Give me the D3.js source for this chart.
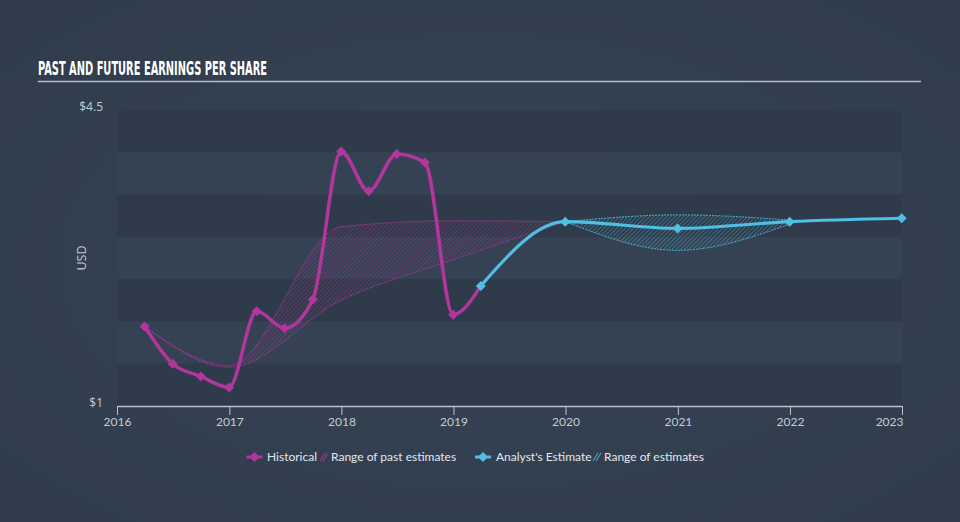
<!DOCTYPE html>
<html>
<head>
<meta charset="utf-8">
<script src="https://cdn.jsdelivr.net/npm/d3@7/dist/d3.min.js"></script>
<style>
html,body{margin:0;padding:0;background:#323e4e;}
svg{display:block;}
</style>
</head>
<body>
<svg id="chart" width="960" height="522"></svg>
<script>
// ---- data ----
const histDates = ["2016-03-31","2016-06-30","2016-09-30","2016-12-31","2017-03-31","2017-06-30","2017-09-30","2017-12-31","2018-03-31","2018-06-30","2018-09-30","2018-12-31","2019-03-31"];
const histValues = [1.94,1.50,1.35,1.22,2.12,1.92,2.26,4.01,3.54,3.98,3.88,2.08,2.42];

const estDates = ["2019-03-31","2019-12-31","2020-12-31","2021-12-31","2022-12-31"];
const estValues = [2.42,3.18,3.10,3.18,3.22];

const pastRangeDates = ["2016-03-31","2016-12-31","2017-12-31","2018-12-31","2019-12-31"];
const pastRangeLow  = [1.94,1.46,2.25,2.73,3.18];
const pastRangeHigh = [1.94,1.48,3.12,3.19,3.18];

const futRangeDates = ["2019-12-31","2020-12-31","2021-12-31"];
const futRangeLow  = [3.18,2.84,3.15];
const futRangeHigh = [3.18,3.26,3.20];

const yearTicks = ["2016","2017","2018","2019","2020","2021","2022","2023"];
const yTickValues = [1,4.5];
const yTickLabels = ["$1","$4.5"];

const title = "PAST AND FUTURE EARNINGS PER SHARE";
const legendLabels = ["Historical","Range of past estimates","Analyst's Estimate","Range of estimates"];

// ---- setup ----
const W = 960, H = 522;
const magenta = "#b2369c", blue = "#4fbfe3";
const parse = d3.timeParse("%Y-%m-%d");
const svg = d3.select("#chart");

const x = d3.scaleTime().domain([new Date(2016,0,1), new Date(2023,0,1)]).range([117, 902]);
const y = d3.scaleLinear().domain([1, 4.5]).range([406, 110]);

// background
const defs = svg.append("defs");
const bg = defs.append("radialGradient").attr("id","bg").attr("cx","50%").attr("cy","50%").attr("r","70%");
bg.append("stop").attr("offset","0%").attr("stop-color","#364455");
bg.append("stop").attr("offset","100%").attr("stop-color","#303c4c");
svg.append("rect").attr("width",W).attr("height",H).attr("fill","url(#bg)");

function hatch(id, color){
  const p = defs.append("pattern").attr("id",id).attr("patternUnits","userSpaceOnUse")
    .attr("width",3).attr("height",3).attr("patternTransform","rotate(45)");
  p.append("line").attr("x1",0).attr("y1",0).attr("x2",0).attr("y2",3)
    .attr("stroke",color).attr("stroke-width",0.9).attr("stroke-opacity",0.8);
}
hatch("hatchM", magenta);
hatch("hatchB", blue);

// bands
const nb = 7;
const bandH = (y(1) - y(4.5)) / nb;
const bands = d3.range(nb);
svg.append("g").selectAll("rect").data(bands).join("rect")
  .attr("x", x.range()[0]).attr("width", x.range()[1]-x.range()[0])
  .attr("y", i => y(4.5) + i*bandH).attr("height", bandH)
  .attr("fill", i => i%2===0 ? "#2f3b4a" : "#354253");

// title
svg.append("text").attr("x",38).attr("y",74.5).text(title)
  .attr("font-family","'Liberation Sans Narrow','DejaVu Sans Condensed',sans-serif")
  .attr("font-weight","bold").attr("font-size",19).attr("fill","#ffffff")
  .attr("textLength",229).attr("lengthAdjust","spacingAndGlyphs");
svg.append("line").attr("x1",38).attr("x2",921).attr("y1",81.5).attr("y2",81.5)
  .attr("stroke","#b9bec5").attr("stroke-width",1.6);

// y labels
svg.append("g").selectAll("text").data(yTickValues).join("text")
  .attr("x",103).attr("y",d=>y(d)-3).attr("dy","0.35em").attr("text-anchor","end")
  .attr("font-family","'Open Sans',sans-serif").attr("font-size",12).attr("fill","#c6cbd1")
  .text((d,i)=>yTickLabels[i]);
svg.append("text").attr("transform","translate(86,258) rotate(-90)").attr("text-anchor","middle")
  .attr("font-family","'Open Sans',sans-serif").attr("font-size",12.5).attr("fill","#c6cbd1").text("USD");

// x axis
const xAxis = d3.axisBottom(x).tickValues(yearTicks.map(s=>new Date(+s,0,1)))
  .tickFormat(d3.timeFormat("%Y")).tickSize(9).tickSizeOuter(0);
const gx = svg.append("g").attr("transform","translate(0,406)").call(xAxis);
gx.select(".domain").attr("stroke","#b9c2cc").attr("stroke-width",1.3);
gx.selectAll(".tick line").attr("stroke","#b9c2cc").attr("stroke-width",1);
gx.selectAll(".tick text").attr("fill","#c6cbd1").attr("font-family","'Lato',sans-serif")
  .attr("font-size",12).attr("y",11).attr("dy","0.71em");
gx.selectAll(".tick").filter((d,i,n)=>i===n.length-1).select("text").attr("text-anchor","end").attr("x",1);

// ranges
function rangeData(dates, lo, hi){ return dates.map((d,i)=>({date:parse(d), lo:lo[i], hi:hi[i]})); }
const area = d3.area().x(d=>x(d.date)).y0(d=>y(d.lo)).y1(d=>y(d.hi)).curve(d3.curveMonotoneX);
const lineLo = d3.line().x(d=>x(d.date)).y(d=>y(d.lo)).curve(d3.curveMonotoneX);
const lineHi = d3.line().x(d=>x(d.date)).y(d=>y(d.hi)).curve(d3.curveMonotoneX);

function drawRange(data, pat, color){
  svg.append("path").datum(data).attr("d",area).attr("fill",`url(#${pat})`);
  [lineLo,lineHi].forEach(l=>svg.append("path").datum(data).attr("d",l).attr("fill","none")
    .attr("stroke",color).attr("stroke-width",1).attr("stroke-dasharray","2,1").attr("stroke-opacity",0.8));
}
drawRange(rangeData(pastRangeDates,pastRangeLow,pastRangeHigh),"hatchM",magenta);
drawRange(rangeData(futRangeDates,futRangeLow,futRangeHigh),"hatchB",blue);

// lines
const hist = histDates.map((d,i)=>({date:parse(d), v:histValues[i]}));
const est = estDates.map((d,i)=>({date:parse(d), v:estValues[i]}));
const line = d3.line().x(d=>x(d.date)).y(d=>y(d.v)).curve(d3.curveMonotoneX);

svg.append("path").datum(hist).attr("d",line).attr("fill","none").attr("stroke",magenta)
  .attr("stroke-width",3.5).attr("stroke-linejoin","round");
const diamond = d3.symbol().type(d3.symbolSquare).size(50);
svg.append("g").selectAll("path").data(hist.slice(0,-1)).join("path")
  .attr("d",diamond).attr("fill",magenta)
  .attr("transform",d=>`translate(${x(d.date)},${y(d.v)}) rotate(45)`);

svg.append("path").datum(est).attr("d",line).attr("fill","none").attr("stroke",blue)
  .attr("stroke-width",3.2).attr("stroke-linejoin","round");
svg.append("g").selectAll("path").data(est).join("path")
  .attr("d",diamond).attr("fill",blue)
  .attr("transform",d=>`translate(${x(d.date)},${y(d.v)}) rotate(45)`);

// legend
const ly = 457;
const lg = svg.append("g").attr("font-family","'Lato',sans-serif").attr("font-size",12).attr("fill","#e4e7eb");
function lineIcon(cx, color){
  lg.append("line").attr("x1",cx-8).attr("x2",cx+8).attr("y1",ly).attr("y2",ly).attr("stroke",color).attr("stroke-width",3);
  lg.append("path").attr("d",diamond).attr("fill",color).attr("transform",`translate(${cx},${ly}) rotate(45)`);
}
function hatchIcon(x0, color){
  for(let k=0;k<2;k++){
    lg.append("line").attr("x1",x0+k*3).attr("y1",ly+4).attr("x2",x0+k*3+5).attr("y2",ly-4)
      .attr("stroke",color).attr("stroke-width",1.1).attr("stroke-opacity",0.8);
  }
}
lineIcon(254.5, magenta);
lg.append("text").attr("x",267).attr("y",ly).attr("dy","0.35em").text(legendLabels[0]);
hatchIcon(320, magenta);
lg.append("text").attr("x",331).attr("y",ly).attr("dy","0.35em").text(legendLabels[1]);
lineIcon(483, blue);
lg.append("text").attr("x",496).attr("y",ly).attr("dy","0.35em").text(legendLabels[2]);
hatchIcon(593, blue);
lg.append("text").attr("x",604).attr("y",ly).attr("dy","0.35em").text(legendLabels[3]);
</script>
</body>
</html>
